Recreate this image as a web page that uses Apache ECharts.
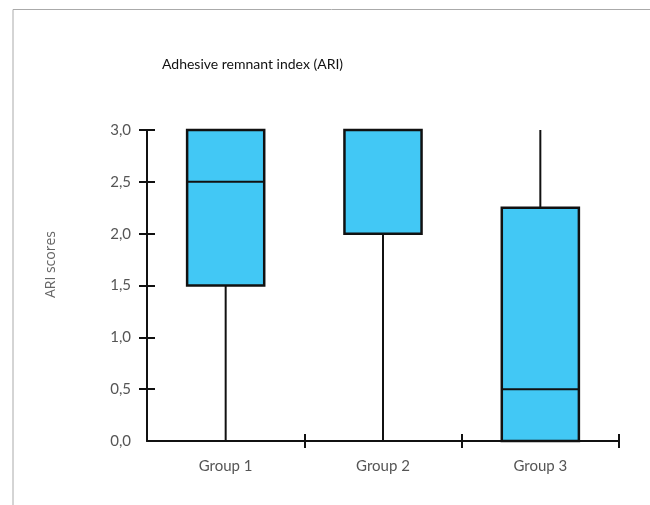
<!DOCTYPE html>
<html>
<head>
<meta charset="utf-8">
<script src="https://cdn.jsdelivr.net/npm/echarts@6/dist/echarts.min.js"></script>
<style>
  html, body { margin: 0; padding: 0; background: #fff; }
  #main { width: 650px; height: 505px; }
</style>
</head>
<body>
<div id="main"></div>
<script>
var categories = ['Group 1', 'Group 2', 'Group 3'];
var mins = [0, 0, 0];
var q1s = [1.5, 2.0, 0];
var medians = [2.5, 3.0, 0.5];
var q3s = [3.0, 3.0, 2.25];
var maxs = [3.0, 3.0, 3.0];
var yTicks = [0.5, 1.0, 1.5, 2.0, 2.5, 3.0];

var boxData = categories.map(function (c, i) {
  return [i, mins[i], q1s[i], medians[i], q3s[i], maxs[i]];
});

var myChart = echarts.init(document.getElementById('main'));

function renderBox(params, api) {
  var idx = api.value(0);
  var band = api.size([1, 0])[0];
  var w = band * 0.49;
  var pMin = api.coord([idx, api.value(1)]);
  var pQ1 = api.coord([idx, api.value(2)]);
  var pMed = api.coord([idx, api.value(3)]);
  var pQ3 = api.coord([idx, api.value(4)]);
  var pMax = api.coord([idx, api.value(5)]);
  var x = pMin[0];
  var line = { stroke: '#111', lineWidth: 2 };
  return {
    type: 'group',
    children: [
      { type: 'line', shape: { x1: x, y1: pMin[1], x2: x, y2: pQ1[1] }, style: line },
      { type: 'line', shape: { x1: x, y1: pQ3[1], x2: x, y2: pMax[1] }, style: line },
      {
        type: 'rect',
        shape: { x: x - w / 2, y: pQ3[1], width: w, height: pQ1[1] - pQ3[1] },
        style: { fill: '#42c8f5', stroke: '#111', lineWidth: 2.5 }
      },
      { type: 'line', shape: { x1: x - w / 2, y1: pMed[1], x2: x + w / 2, y2: pMed[1] }, style: line }
    ]
  };
}

var option = {
  animation: false,
  backgroundColor: '#fff',
  textStyle: { fontFamily: 'Lato' },
  title: {
    text: 'Adhesive remnant index (ARI)',
    left: 157,
    top: 52,
    textStyle: { fontFamily: 'Lato', fontSize: 14, fontWeight: 'normal', color: '#111' }
  },
  graphic: [
    {
      type: 'polyline',
      silent: true,
      shape: { points: [[13, 505], [13, 9.5], [650, 9.5]] },
      style: { stroke: '#aaa', lineWidth: 1, fill: null }
    },
    {
      type: 'text',
      left: 44,
      top: 231,
      rotation: Math.PI / 2,
      style: { text: 'ARI scores', fontFamily: 'Open Sans', fontSize: 14, fill: '#666' }
    }
  ],
  grid: { left: 147, right: 31, top: 130, bottom: 64 },
  xAxis: [
    {
      type: 'category',
      data: categories,
      boundaryGap: true,
      axisLine: { lineStyle: { color: '#111', width: 2 } },
      axisTick: {
        show: true, length: 7, inside: false,
        interval: function (i) { return i !== 0; },
        lineStyle: { color: '#111', width: 2 }
      },
      axisLabel: { margin: 18, fontSize: 15, color: '#555', fontFamily: 'Lato' }
    },
    {
      type: 'category',
      data: categories,
      position: 'bottom',
      boundaryGap: true,
      axisLine: { show: false },
      axisTick: {
        show: true, length: 7, inside: true,
        interval: function (i) { return i !== 0; },
        lineStyle: { color: '#111', width: 2 }
      },
      axisLabel: { show: false }
    }
  ],
  yAxis: [
    {
      type: 'value',
      min: 0,
      max: 3,
      interval: 0.5,
      splitLine: { show: false },
      axisLine: { show: true, lineStyle: { color: '#111', width: 2 } },
      axisTick: {
        show: true, length: 8, inside: false,
        customValues: yTicks,
        lineStyle: { color: '#111', width: 2 }
      },
      axisLabel: {
        margin: 16, fontSize: 15, color: '#555', fontFamily: 'Lato',
        formatter: function (v) { return v.toFixed(1).replace('.', ','); }
      }
    },
    {
      type: 'value',
      min: 0,
      max: 3,
      interval: 0.5,
      position: 'left',
      splitLine: { show: false },
      axisLine: { show: false },
      axisTick: {
        show: true, length: 8, inside: true,
        customValues: yTicks,
        lineStyle: { color: '#111', width: 2 }
      },
      axisLabel: { show: false }
    }
  ],
  series: [
    {
      type: 'custom',
      renderItem: renderBox,
      encode: { x: 0, y: [1, 2, 3, 4, 5] },
      data: boxData,
      z: 1
    }
  ]
};

myChart.setOption(option);
window.addEventListener('resize', function () {
  myChart.resize();
});
</script>
</body>
</html>
